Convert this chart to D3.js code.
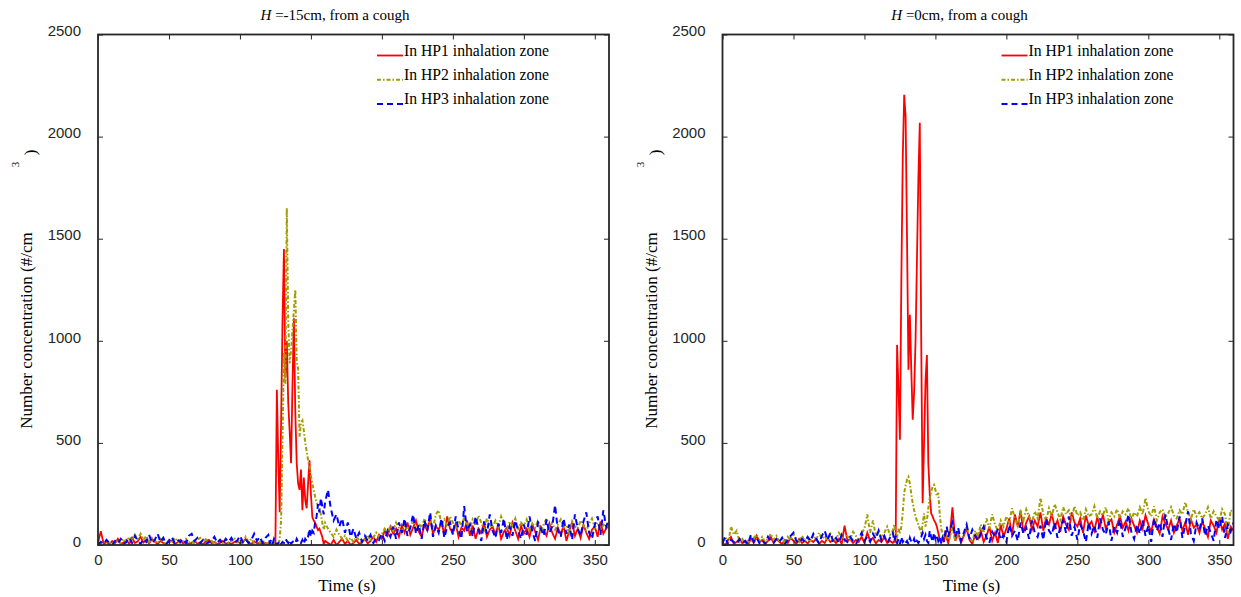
<!DOCTYPE html>
<html lang="en">
<head>
<meta charset="UTF-8">
<title>Number concentration from a cough</title>
<script src="https://d3js.org/d3.v7.min.js" charset="utf-8"></script>
<style>
    body { margin: 0; background: #fff; }
    .axis text { font-family: "Liberation Sans", Arial, sans-serif; font-size: 15px; fill: #262626; }
    .axis line { stroke: #262626; }
    .serif { font-family: "Liberation Serif", "Times New Roman", serif; font-size: 15px; fill: #000; }
    .label { font-size: 17px; }
    .legend { font-size: 15.7px; }
</style>
</head>
<body>
<script>
    // sample times: every 2 s, every 1 s around the cough peak
    let times = d3.range(0, 120, 2).concat(d3.range(120, 160, 1), d3.range(160, 361, 2));

    let xTicks = [0, 50, 100, 150, 200, 250, 300, 350];
    let yTicks = [0, 500, 1000, 1500, 2000, 2500];
    let seriesNames = ['In HP1 inhalation zone', 'In HP2 inhalation zone', 'In HP3 inhalation zone'];
    let titles = ['=-15cm, from a cough', '=0cm, from a cough'];

    // H = -15cm
    let hp1Left = [
        10, 68, 5, 15, 3, 20, 8, 30, 5, 12,
        25, 5, 35, 10, 18, 40, 12, 25, 8, 30,
        15, 5, 20, 10, 3, 15, 22, 5, 12, 25,
        8, 15, 5, 10, 20, 6, 12, 3, 18, 25,
        8, 14, 5, 10, 20, 6, 12, 4, 15, 22,
        8, 14, 30, 10, 5, 18, 8, 12, 3, 10,
        5, 12, 4, 8, 3, 15, 760, 420, 160, 600,
        1100, 1450, 820, 1000, 700, 560, 400, 780, 1110, 650,
        400, 300, 270, 370, 170, 330, 220, 180, 300, 415,
        250, 137, 120, 108, 90, 73, 80, 60, 40, 5,
        20, 10, 0, 25, 0, 15, 30, 5, 20, 0,
        10, 25, 5, 15, 30, 8, 20, 40, 15, 50,
        30, 70, 45, 90, 55, 80, 40, 95, 60, 110,
        50, 85, 120, 65, 40, 100, 70, 130, 55, 90,
        75, 110, 50, 140, 80, 60, 105, 40, 85, 70,
        120, 45, 95, 30, 80, 60, 110, 40, 75, 90,
        50, 100, 30, 65, 85, 45, 110, 70, 30, 95,
        55, 80, 40, 100, 65, 25, 90, 70, 45, 105,
        60, 30, 85, 50, 95, 20, 70, 110, 45, 80,
        35, 100, 60, 30, 75, 90, 40, 115, 55, 80,
        100
    ];
    let hp2Left = [
        5, 10, 0, 20, 8, 15, 3, 25, 10, 30,
        15, 40, 20, 50, 30, 55, 25, 45, 15, 35,
        20, 10, 30, 15, 5, 25, 10, 35, 20, 8,
        15, 30, 10, 20, 5, 25, 35, 15, 28, 10,
        20, 5, 15, 25, 10, 30, 8, 18, 35, 12,
        25, 10, 40, 15, 30, 8, 20, 12, 25, 5,
        10, 5, 15, 3, 8, 12, 5, 0, 30, 122,
        520, 940, 790, 1650, 1100, 890, 950, 1050, 1150, 1250,
        900, 860, 530, 600, 610, 560, 500, 460, 415, 380,
        340, 300, 270, 235, 210, 190, 185, 150, 110, 75,
        108, 80, 60, 40, 75, 50, 30, 45, 20, 35,
        15, 40, 25, 10, 30, 50, 20, 35, 60, 40,
        55, 80, 60, 95, 70, 110, 85, 60, 100, 75,
        90, 120, 70, 105, 85, 130, 95, 110, 80, 150,
        170, 100, 125, 90, 140, 110, 80, 120, 95, 135,
        105, 80, 125, 95, 145, 110, 75, 130, 100, 85,
        120, 90, 140, 105, 70, 115, 95, 130, 80, 110,
        95, 125, 70, 105, 85, 120, 60, 100, 130, 80,
        110, 75, 100, 125, 85, 95, 60, 115, 90, 80,
        120, 95, 70, 105, 130, 85, 110, 75, 100, 90,
        110
    ];
    let hp3Left = [
        0, 15, 5, 25, 10, 0, 20, 8, 30, 5,
        15, 35, 10, 45, 20, 5, 30, 15, 50, 10,
        25, 55, 15, 35, 5, 20, 40, 10, 25, 15,
        30, 10, 45, 55, 20, 35, 10, 25, 5, 15,
        20, 40, 10, 25, 5, 30, 15, 35, 10, 20,
        45, 15, 30, 10, 25, 55, 20, 40, 10, 35,
        50, 10, 25, 5, 30, 15, 0, 10, 20, 5,
        15, 10, 30, 20, 10, 25, 5, 15, 20, 10,
        30, 15, 20, 10, 25, 5, 30, 20, 40, 80,
        40, 70, 60, 110, 140, 200, 160, 230, 190, 150,
        210, 270, 180, 120, 150, 90, 130, 60, 110, 40,
        80, 30, 60, 15, 45, 20, 50, 10, 35, 25,
        55, 20, 70, 40, 90, 30, 110, 60, 130, 45,
        85, 150, 55, 100, 30, 120, 70, 160, 40, 95,
        60, 130, 35, 90, 110, 50, 140, 75, 30, 190,
        65, 100, 40, 140, 80, 20, 115, 55, 150, 70,
        35, 105, 60, 130, 25, 90, 45, 120, 70, 30,
        100, 50, 140, 65, 20, 110, 80, 45, 125, 60,
        90, 195, 70, 40, 130, 55, 100, 25, 150, 80,
        45, 115, 160, 60, 30, 100, 140, 50, 170, 90,
        130
    ];

    // H = 0cm
    let hp1Right = [
        10, 0, 25, 40, 5, 15, 30, 8, 20, 0,
        35, 10, 45, 15, 25, 5, 20, 40, 10, 30,
        15, 5, 25, 10, 35, 20, 5, 30, 10, 20,
        8, 25, 15, 30, 5, 20, 10, 35, 15, 25,
        10, 30, 5, 95, 20, 30, 10, 25, 15, 40,
        10, 60, 20, 35, 8, 25, 15, 40, 10, 20,
        10, 20, 15, 980, 760, 515, 1300, 1900, 2205, 2100,
        1500, 858, 1127, 860, 613, 750, 1000, 1400, 1800, 2068,
        1000, 205, 500, 800, 930, 400, 250, 155, 140, 122,
        110, 90, 60, 30, 10, 40, 15, 70, 30, 10,
        40, 185, 20, 60, 10, 45, 80, 25, 5, 50,
        30, 70, 15, 45, 90, 20, 60, 10, 100, 40,
        80, 130, 50, 150, 90, 170, 60, 110, 140, 75,
        120, 90, 160, 70, 130, 100, 155, 85, 120, 65,
        140, 100, 75, 160, 110, 90, 130, 60, 145, 95,
        115, 70, 135, 90, 150, 80, 110, 125, 60, 100,
        140, 85, 115, 70, 130, 95, 60, 120, 80, 145,
        100, 65, 125, 90, 55, 140, 105, 75, 120, 60,
        95, 130, 70, 110, 50, 125, 85, 100, 60, 115,
        80, 40, 120, 95, 60, 135, 75, 105, 30, 90,
        70
    ];
    let hp2Right = [
        20, 40, 10, 90, 50, 70, 15, 30, 5, 20,
        10, 35, 50, 20, 40, 15, 30, 55, 25, 45,
        20, 35, 10, 40, 25, 55, 30, 15, 45, 20,
        35, 15, 50, 25, 60, 30, 45, 20, 55, 35,
        25, 60, 40, 20, 50, 30, 65, 45, 25, 55,
        80, 150, 60, 120, 45, 70, 35, 60, 90, 50,
        70, 100, 60, 40, 80, 55, 90, 160, 255, 290,
        320, 333, 300, 250, 205, 170, 140, 118, 100, 80,
        60, 100, 155, 90, 120, 180, 230, 260, 285, 294,
        270, 240, 255, 157, 80, 60, 40, 70, 30, 50,
        35, 80, 20, 60, 25, 50, 90, 40, 15, 70,
        45, 100, 60, 130, 80, 150, 100, 70, 120, 90,
        140, 110, 180, 130, 95, 160, 120, 175, 140, 110,
        165, 130, 230, 150, 120, 180, 140, 200, 160, 125,
        185, 150, 170, 130, 190, 145, 160, 120, 175, 140,
        150, 190, 130, 165, 145, 185, 120, 160, 140, 175,
        130, 165, 150, 180, 125, 160, 140, 185, 150, 230,
        165, 140, 190, 120, 160, 175, 135, 155, 185, 145,
        130, 170, 150, 210, 160, 125, 175, 140, 160, 130,
        150, 185, 130, 165, 140, 120, 175, 150, 60, 170,
        160
    ];
    let hp3Right = [
        10, 40, 0, 25, 15, 5, 30, 10, 20, 5,
        50, 15, 35, 10, 25, 5, 40, 20, 10, 30,
        15, 35, 5, 25, 45, 60, 20, 10, 30, 15,
        40, 20, 55, 30, 10, 45, 70, 25, 60, 15,
        35, 10, 50, 25, 15, 40, 20, 5, 30, 60,
        20, 40, 15, 55, 30, 70, 20, 45, 10, 35,
        60, 20, 45, 10, 30, 5, 40, 15, 25, 10,
        20, 5, 35, 15, 10, 30, 5, 20, 10, 25,
        40, 60, 30, 50, 20, 10, 70, 40, 15, 60,
        30, 50, 20, 40, 10, 35, 15, 60, 90, 40,
        70, 110, 40, 85, 20, 60, 100, 30, 75, 45,
        20, 55, 90, 35, 10, 65, 40, 80, 25, 50,
        15, 100, 45, 70, 20, 110, 55, 85, 30, 120,
        60, 40, 95, 25, 130, 70, 50, 110, 35, 85,
        120, 60, 140, 45, 90, 25, 100, 70, 15, 110,
        55, 95, 35, 130, 75, 50, 115, 20, 90, 60,
        125, 40, 85, 150, 65, 30, 100, 55, 120, 45,
        95, 15, 130, 70, 110, 40, 150, 80, 25, 105,
        60, 140, 35, 95, 165, 55, 20, 110, 75, 130,
        45, 95, 60, 20, 125, 80, 140, 35, 100, 65,
        110
    ];

    let colors = ['#ff0000', '#9e9e00', '#0000ff'];
    let dashes = [null, '4,2,1.5,2', '6,4'];

    let svg = d3.select('body').append('svg').attr('width', 1241).attr('height', 597);

    let plotW = 511, plotH = 510.5, plotTop = 34.5;
    let x = d3.scaleLinear().domain([0, 360]).range([0, plotW]);
    let y = d3.scaleLinear().domain([0, 2500]).range([plotH, 0]);

    let panels = [
        {left: 98, title: titles[0], series: [hp1Left, hp2Left, hp3Left]},
        {left: 722.5, title: titles[1], series: [hp1Right, hp2Right, hp3Right]}
    ];

    panels.forEach(function (p, pi) {
        let g = svg.append('g').attr('transform', 'translate(' + p.left + ',' + plotTop + ')');

        g.append('clipPath').attr('id', 'clip' + pi)
            .append('rect').attr('width', plotW).attr('height', plotH);

        // lines
        let line = d3.line()
            .x(function (d, i) { return x(times[i]); })
            .y(function (d) { return y(d); });
        let lines = g.append('g').attr('clip-path', 'url(#clip' + pi + ')');
        p.series.forEach(function (s, si) {
            lines.append('path')
                .datum(s)
                .attr('d', line)
                .attr('fill', 'none')
                .attr('stroke', colors[si])
                .attr('stroke-width', si === 0 ? 1.8 : 2)
                .attr('stroke-dasharray', dashes[si]);
        });

        // axes, ticks pointing inward
        let fmt = d3.format('d');
        g.append('g').attr('class', 'axis')
            .attr('transform', 'translate(0,' + plotH + ')')
            .call(d3.axisBottom(x).tickValues(xTicks).tickFormat(fmt).tickSizeInner(-5).tickSizeOuter(0).tickPadding(9));
        g.append('g').attr('class', 'axis')
            .call(d3.axisTop(x).tickValues(xTicks).tickSizeInner(-5).tickSizeOuter(0).tickFormat(''));
        g.append('g').attr('class', 'axis')
            .call(d3.axisLeft(y).tickValues(yTicks).tickFormat(fmt).tickSizeInner(-5).tickSizeOuter(0).tickPadding(17))
            .selectAll('text').attr('dy', '0.08em');
        g.append('g').attr('class', 'axis')
            .attr('transform', 'translate(' + plotW + ',0)')
            .call(d3.axisRight(y).tickValues(yTicks).tickSizeInner(-5).tickSizeOuter(0).tickFormat(''));
        g.selectAll('.axis .domain').remove();

        g.append('rect')
            .attr('width', plotW).attr('height', plotH)
            .attr('fill', 'none').attr('stroke', '#262626').attr('stroke-width', 1.8);

        // title
        let t = g.append('text').attr('class', 'serif')
            .attr('x', 237).attr('y', -15).attr('text-anchor', 'middle');
        t.append('tspan').attr('font-style', 'italic').text('H');
        t.append('tspan').text(' ' + p.title);

        // axis labels
        g.append('text').attr('class', 'serif label')
            .attr('x', 249).attr('y', 556).attr('text-anchor', 'middle')
            .text('Time (s)');
        g.append('text').attr('class', 'serif label')
            .attr('transform', 'translate(-66,296) rotate(-90)')
            .attr('text-anchor', 'middle')
            .text('Number concentration (#/cm');
        g.append('text').attr('class', 'serif')
            .attr('transform', 'translate(-79,130) rotate(-90)')
            .attr('text-anchor', 'middle').style('font-size', '11px')
            .text('3');
        g.append('text').attr('class', 'serif label')
            .attr('transform', 'translate(-62,118) rotate(-90)')
            .attr('text-anchor', 'middle')
            .text(')');

        // legend
        let leg = g.append('g').attr('transform', 'translate(279,21)');
        seriesNames.forEach(function (name, si) {
            let ly = si * 24.3;
            leg.append('line')
                .attr('x1', 0).attr('x2', 26).attr('y1', ly).attr('y2', ly)
                .attr('stroke', colors[si]).attr('stroke-width', si === 0 ? 1.8 : 2)
                .attr('stroke-dasharray', dashes[si]);
            leg.append('text').attr('class', 'serif legend')
                .attr('x', 27).attr('y', ly)
                .text(name);
        });
    });
</script>
</body>
</html>
